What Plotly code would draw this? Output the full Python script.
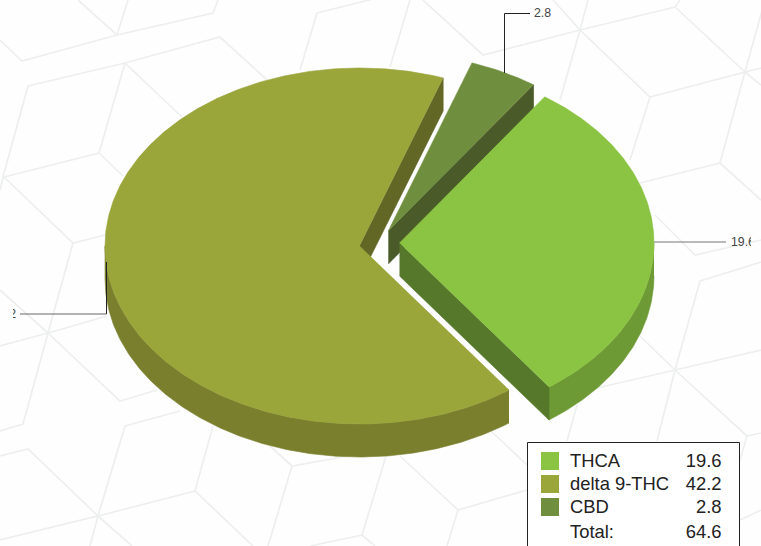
import numpy as np
import plotly.graph_objects as go

# ---- data ----
CATEGORIES = ["THCA", "delta 9-THC", "CBD"]
VALUES = [19.6, 42.2, 2.8]
TOTAL_LABEL = "Total:"

# ---- styles ----
TOP = ["#8BC443", "#9AA53A", "#6F8E3E"]
OUTER = ["#6E9A35", "#7A7F2E", "#5A7432"]
CUT = ["#55782A", "#626726", "#4A5A28"]
W, H = 761, 546
CLIP_L, CLIP_R = 13, 751
RX, RY, DEPTH = 254.5, 178, 33
START = 34.8  # degrees clockwise from 12 o'clock at which the first slice starts
CENTRES = {"THCA": (399.5, 243), "delta 9-THC": (359.5, 246), "CBD": (388.3, 231)}
FONT = "Liberation Sans, Arial, sans-serif"

BACKGROUND = [
    [(78,0),(117,35),(128,0)], [(0,40),(22,61),(117,35),(213,13),(218,0)],
    [(0,190),(3,177),(28,86),(125,63),(220,37),(267,80)], [(125,63),(182,117)],
    [(125,63),(99,153),(4,177)], [(99,153),(123,176)], [(4,177),(73,243),(105,235)],
    [(73,243),(48,333)], [(0,290),(48,333),(107,316)], [(0,346),(48,333)],
    [(48,333),(120,401),(157,390)], [(48,333),(23,424),(0,431)],
    [(0,456),(28,449),(98,516)], [(180,411),(125,426),(98,516)],
    [(98,516),(195,491),(213,426)], [(195,491),(253,546)], [(0,540),(98,516),(90,546)],
    [(98,516),(132,546)], [(270,446),(292,466),(380,450)], [(292,466),(268,546)],
    [(386,456),(362,535),(310,546)], [(362,535),(375,546)], [(317,13),(300,70)],
    [(317,13),(377,-2)],
    [(410,0),(390,67)], [(423,0),(483,55),(580,30),(675,7),(680,0)],
    [(675,7),(745,72),(650,97),(580,30)], [(650,97),(630,160)], [(580,30),(560,100)],
    [(580,30),(588,0)], [(553,0),(580,30)], [(765,0),(745,72),(720,163),(640,183)],
    [(720,163),(761,200)], [(745,72),(761,85)], [(745,72),(761,68)],
    [(655,215),(695,255),(761,240)], [(700,281),(761,262)], [(700,281),(675,370)],
    [(597,388),(675,370),(761,350)], [(640,336),(675,370),(747,436),(761,433)],
    [(747,436),(740,460)], [(675,370),(657,441)], [(577,405),(567,441)],
    [(400,456),(458,510),(527,490)], [(458,510),(447,546)], [(490,430),(527,465)],
    [(740,520),(761,510)],
]


def pt(centre, a, dz=0.0):
    r = np.radians(a)
    return centre[0] + RX * np.sin(r), centre[1] - RY * np.cos(r) + dz


def arc(centre, a0, a1, dz=0.0):
    a = np.linspace(a0, a1, max(3, int(abs(a1 - a0) * 2)))
    return pt(centre, a, dz)


def poly(xs, ys, color, name):
    return go.Scatter(x=list(xs), y=list(ys), mode="lines", fill="toself", fillcolor=color,
                      line=dict(width=0.6, color=color), hoverinfo="skip", showlegend=False, name=name)


spans = {}
a = START
for c, v in zip(CATEGORIES, VALUES):
    spans[c] = (a, a + v / sum(VALUES) * 360)
    a = spans[c][1]

fig = go.Figure()


def slice_traces(i, outer_range=None):
    c = CATEGORIES[i]
    ce = CENTRES[c]
    a0, a1 = spans[c]
    if outer_range:
        x0, y0 = arc(ce, *outer_range)
        x1, y1 = arc(ce, *outer_range, DEPTH)
        fig.add_trace(poly(np.r_[x0, x1[::-1]], np.r_[y0, y1[::-1]], OUTER[i], c + " rim"))
    ex, ey = pt(ce, a1)
    cut_x = [ce[0], ex, ex, ce[0]]
    cut_y = [ce[1], ey, ey + DEPTH, ce[1] + DEPTH]
    fig.add_trace(poly(cut_x, cut_y, CUT[i], c + " cut"))
    x, y = arc(ce, a0, a1)
    fig.add_trace(poly(np.r_[ce[0], x], np.r_[ce[1], y], TOP[i], c))


slice_traces(1, (spans["delta 9-THC"][0], 270))
slice_traces(2)
slice_traces(0, (90, spans["THCA"][1]))


def line(xs, ys, color):
    fig.add_trace(go.Scatter(x=xs, y=ys, mode="lines", line=dict(color=color, width=1),
                             hoverinfo="skip", showlegend=False))


def text(x, y, s, pos, size, color):
    fig.add_trace(go.Scatter(x=[x], y=[y], mode="text", text=[s], textposition=pos,
                             textfont=dict(family=FONT, size=size, color=color),
                             cliponaxis=True, hoverinfo="skip", showlegend=False))


# leader lines and value labels
line([504.5, 504.5, 530], [73, 13.5, 13.5], "#222222")
text(534, 14, f"{VALUES[2]}", "middle right", 12.3, "#444444")
line([654, 726], [242, 242], "#777777")
text(731, 242.5, f"{VALUES[0]}", "middle right", 12.3, "#444444")
line([106.5, 106.5], [262, 314], "#222222")
line([106.5, 20], [314, 314], "#666666")
text(16, 314.5, f"{VALUES[1]}", "middle left", 12.3, "#444444")

# legend table
rows_y = [461, 484, 507]
text_y = [462, 485, 508]
for i, c in enumerate(CATEGORIES):
    fig.add_trace(go.Scatter(x=[550], y=[rows_y[i]], mode="markers",
                             marker=dict(symbol="square", size=18, color=TOP[i], line=dict(width=0)),
                             hoverinfo="skip", showlegend=False))
    text(570, text_y[i], c, "middle right", 18.4, "#222222")
    text(721.5, text_y[i], f"{VALUES[i]}", "middle left", 18.4, "#222222")
text(570, 533.5, TOTAL_LABEL, "middle right", 18.4, "#222222")
text(721.5, 533.5, f"{sum(VALUES):.1f}", "middle left", 18.4, "#222222")

shapes = []
for seg in BACKGROUND:
    path = "M " + " L ".join(f"{x / W:.5f},{1 - y / H:.5f}" for x, y in seg)
    shapes.append(dict(type="path", path=path, xref="paper", yref="paper", layer="below",
                       line=dict(color="#EDEFEE", width=1.7)))
shapes.append(dict(type="rect", xref="x", yref="y", x0=527.5, x1=739.5, y0=442.5, y1=570, layer="below",
                   fillcolor="#FFFFFF", line=dict(color="#222222", width=1)))

fig.update_layout(
    width=W, height=H, margin=dict(l=0, r=0, t=0, b=0, pad=0), autosize=False,
    paper_bgcolor="#FEFEFE", plot_bgcolor="rgba(0,0,0,0)", showlegend=False, shapes=shapes,
    xaxis=dict(domain=[CLIP_L / W, CLIP_R / W], range=[CLIP_L, CLIP_R], visible=False, fixedrange=True),
    yaxis=dict(domain=[0, 1], range=[H, 0], visible=False, fixedrange=True),
)
fig.write_html("out.html", config={"displayModeBar": False},
               post_script="document.body.style.margin='0';document.body.style.overflow='hidden';")
